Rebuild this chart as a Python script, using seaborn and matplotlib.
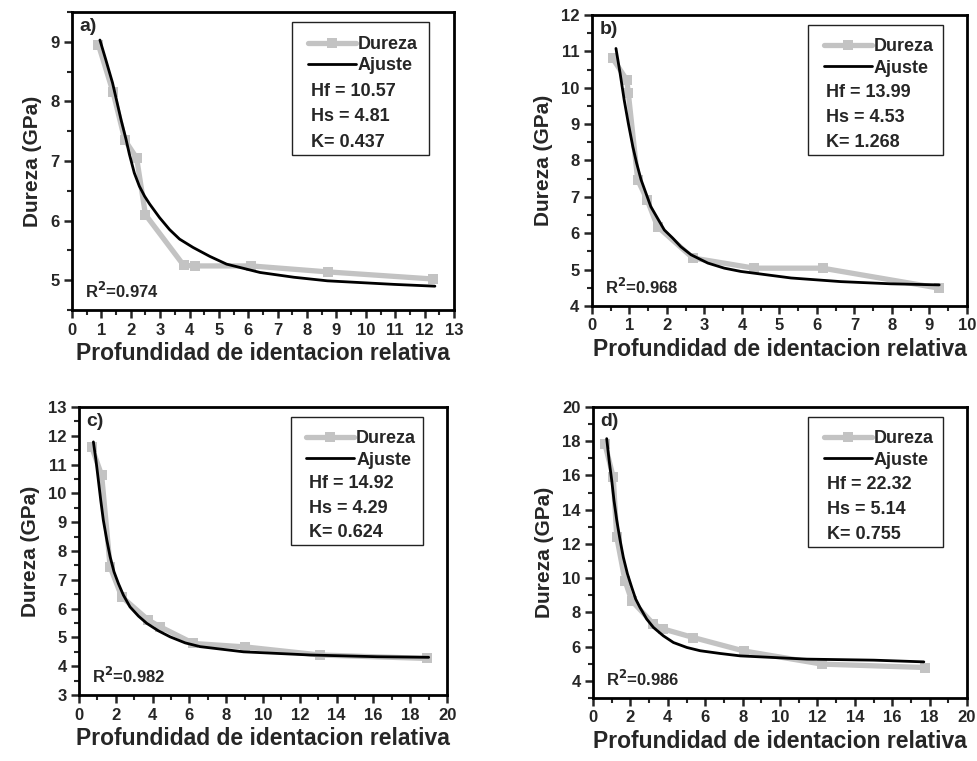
"""
plot.py
-------
Dureza vs profundidad de identacion relativa, four samples (a-d),
measured hardness plus fitted curve.
"""

import matplotlib.pyplot as plt
import pandas as pd
import seaborn as sns
from matplotlib.patches import Rectangle
from matplotlib.ticker import MultipleLocator

OUT = "out.png"

# ---- panel a ----
A_X     = [0.9, 1.4, 1.8, 2.2, 2.5, 3.8, 4.2, 6.1, 8.7, 12.3]
A_Y     = [8.95, 8.15, 7.35, 7.05, 6.1, 5.25, 5.24, 5.24, 5.14, 5.02]
A_FIT_X = [0.95, 1.15, 1.38, 1.67, 1.84, 1.95, 2.12, 2.29, 2.47, 2.64, 2.98, 3.32,
           3.66, 4.12, 4.69, 5.26, 5.83, 6.4, 7.55, 8.69, 9.83, 10.97, 12.35]
A_FIT_Y = [9.03, 8.70, 8.31, 7.69, 7.36, 7.12, 6.80, 6.58, 6.41, 6.28, 6.05, 5.85,
           5.69, 5.55, 5.40, 5.27, 5.20, 5.13, 5.05, 4.99, 4.96, 4.93, 4.90]

# ---- panel b ----
B_X     = [0.55, 0.93, 0.97, 1.22, 1.47, 1.75, 2.69, 4.33, 6.15, 9.26]
B_Y     = [10.81, 10.21, 9.85, 7.47, 6.92, 6.18, 5.32, 5.04, 5.04, 4.49]
B_FIT_X = [0.64, 0.75, 0.86, 0.97, 1.09, 1.19, 1.31, 1.44, 1.57, 1.75, 1.93, 2.15,
           2.37, 2.64, 3.09, 3.53, 3.97, 5.31, 6.64, 7.97, 9.26]
B_FIT_Y = [11.08, 10.40, 9.66, 9.02, 8.38, 7.93, 7.47, 7.10, 6.73, 6.41, 6.09, 5.87,
           5.63, 5.41, 5.18, 5.04, 4.95, 4.77, 4.67, 4.61, 4.58]

# ---- panel c ----
C_X     = [0.69, 1.23, 1.69, 2.32, 3.77, 4.41, 6.22, 9.03, 13.1, 18.9]
C_Y     = [11.61, 10.63, 7.45, 6.41, 5.6, 5.37, 4.79, 4.67, 4.39, 4.27]
C_FIT_X = [0.78, 0.92, 1.05, 1.18, 1.32, 1.51, 1.69, 1.90, 2.14, 2.41, 2.77, 3.23,
           3.68, 4.31, 4.95, 5.77, 6.58, 8.94, 12.57, 16.2, 19.0]
C_FIT_Y = [11.79, 11.15, 10.46, 9.76, 9.07, 8.38, 7.80, 7.28, 6.87, 6.47, 6.06, 5.74,
           5.49, 5.23, 5.02, 4.81, 4.68, 4.50, 4.39, 4.33, 4.31]

# ---- panel d ----
D_X     = [0.63, 1.08, 1.27, 1.71, 2.07, 3.23, 3.76, 5.37, 8.05, 12.24, 17.77]
D_Y     = [17.86, 15.9, 12.39, 9.85, 8.68, 7.32, 7.03, 6.53, 5.75, 4.98, 4.78]
D_FIT_X = [0.73, 0.86, 1.0, 1.12, 1.27, 1.45, 1.62, 1.84, 2.07, 2.28, 2.51, 2.87,
           3.23, 3.76, 4.30, 5.02, 5.73, 6.80, 7.87, 11.44, 15.01, 17.69]
D_FIT_Y = [18.15, 16.88, 15.71, 14.54, 13.37, 12.20, 11.22, 10.25, 9.46, 8.78, 8.29,
           7.61, 7.12, 6.63, 6.24, 5.95, 5.76, 5.60, 5.46, 5.27, 5.21, 5.11]

LABELS  = ["a)", "b)", "c)", "d)"]
PARAMS  = [("10.57", "4.81", "0.437"),
           ("13.99", "4.53", "1.268"),
           ("14.92", "4.29", "0.624"),
           ("22.32", "5.14", "0.755")]
R2      = ["0.974", "0.968", "0.982", "0.986"]

XLIM    = [(0, 13), (0, 10), (0, 20), (0, 20)]
YLIM    = [(4.5, 9.5), (4, 12), (3, 13), (3, 20)]
XSTEP   = [(1, 0.5), (1, 0.5), (2, 1), (2, 1)]
YSTEP   = [(1, 0.5), (1, 0.5), (1, 0.5), (2, 1)]

POS = [[0.0737, 0.5926, 0.391, 0.3916],
       [0.6059, 0.5979, 0.3838, 0.3824],
       [0.0809, 0.0867, 0.3767, 0.3784],
       [0.607, 0.0828, 0.3828, 0.3824]]

GRAY  = "#c3c3c3"
BLACK = "#000000"


def panel(ax, i, x, y, fx, fy):
    meas = pd.DataFrame({"x": x, "y": y})
    fit  = pd.DataFrame({"x": fx, "y": fy})

    sns.lineplot(data=meas, x="x", y="y", ax=ax, color=GRAY, lw=3.8,
                 marker="s", markersize=6.5, markeredgewidth=0, sort=False,
                 estimator=None, label="Dureza")
    sns.lineplot(data=fit, x="x", y="y", ax=ax, color=BLACK, lw=2.0,
                 sort=False, estimator=None, label="Ajuste")

    ax.set_xlim(*XLIM[i])
    ax.set_ylim(*YLIM[i])
    ax.xaxis.set_major_locator(MultipleLocator(XSTEP[i][0]))
    ax.xaxis.set_minor_locator(MultipleLocator(XSTEP[i][1]))
    ax.yaxis.set_major_locator(MultipleLocator(YSTEP[i][0]))
    ax.yaxis.set_minor_locator(MultipleLocator(YSTEP[i][1]))
    ax.tick_params(which="major", direction="out", length=6, width=1.8,
                   labelsize=12, pad=3)
    ax.tick_params(which="minor", direction="out", length=3.5, width=1.5)
    for s in ax.spines.values():
        s.set_visible(True)
        s.set_linewidth(2.0)
        s.set_color(BLACK)

    ax.set_xlabel("Profundidad de identacion relativa", fontsize=16.5,
                  fontweight="bold", labelpad=3)
    ax.set_ylabel("Dureza (GPa)", fontsize=15, fontweight="bold", labelpad=6)

    # legend box with fit parameters
    ax.add_patch(Rectangle((0.575, 0.52), 0.36, 0.445, transform=ax.transAxes,
                           fill=False, lw=1.0, ec="#222222", zorder=5))
    leg = ax.legend(loc="upper left", bbox_to_anchor=(0.618, 0.92),
                    frameon=False, fontsize=13, handlelength=2.65,
                    handletextpad=0.1, borderpad=0, borderaxespad=0,
                    labelspacing=0.25)
    for t in leg.get_texts():
        t.set_fontweight("bold")
    hf, hs, k = PARAMS[i]
    for j, txt in enumerate([f"Hf = {hf}", f"Hs = {hs}", f"K= {k}"]):
        ax.text(0.625, 0.733 - j * 0.085, txt, transform=ax.transAxes,
                fontsize=13, fontweight="bold", va="center", ha="left")

    ax.text(0.02, 0.95, LABELS[i], transform=ax.transAxes, fontsize=14,
            fontweight="bold", va="center", ha="left")
    ax.text(0.035, 0.065, f"R$^{{2}}$={R2[i]}", transform=ax.transAxes,
            fontsize=12, fontweight="bold", va="center", ha="left")


def main():
    sns.set_theme(style="ticks")
    plt.rcParams["font.family"] = ["Liberation Sans", "DejaVu Sans"]
    plt.rcParams["font.weight"] = "bold"
    plt.rcParams["mathtext.default"] = "bf"

    fig = plt.figure(figsize=(9.77, 7.61), dpi=100)
    series = [(A_X, A_Y, A_FIT_X, A_FIT_Y),
              (B_X, B_Y, B_FIT_X, B_FIT_Y),
              (C_X, C_Y, C_FIT_X, C_FIT_Y),
              (D_X, D_Y, D_FIT_X, D_FIT_Y)]
    for i, (x, y, fx, fy) in enumerate(series):
        ax = fig.add_axes(POS[i])
        panel(ax, i, x, y, fx, fy)

    fig.savefig(OUT, dpi=100)
    plt.close(fig)


if __name__ == "__main__":
    main()
